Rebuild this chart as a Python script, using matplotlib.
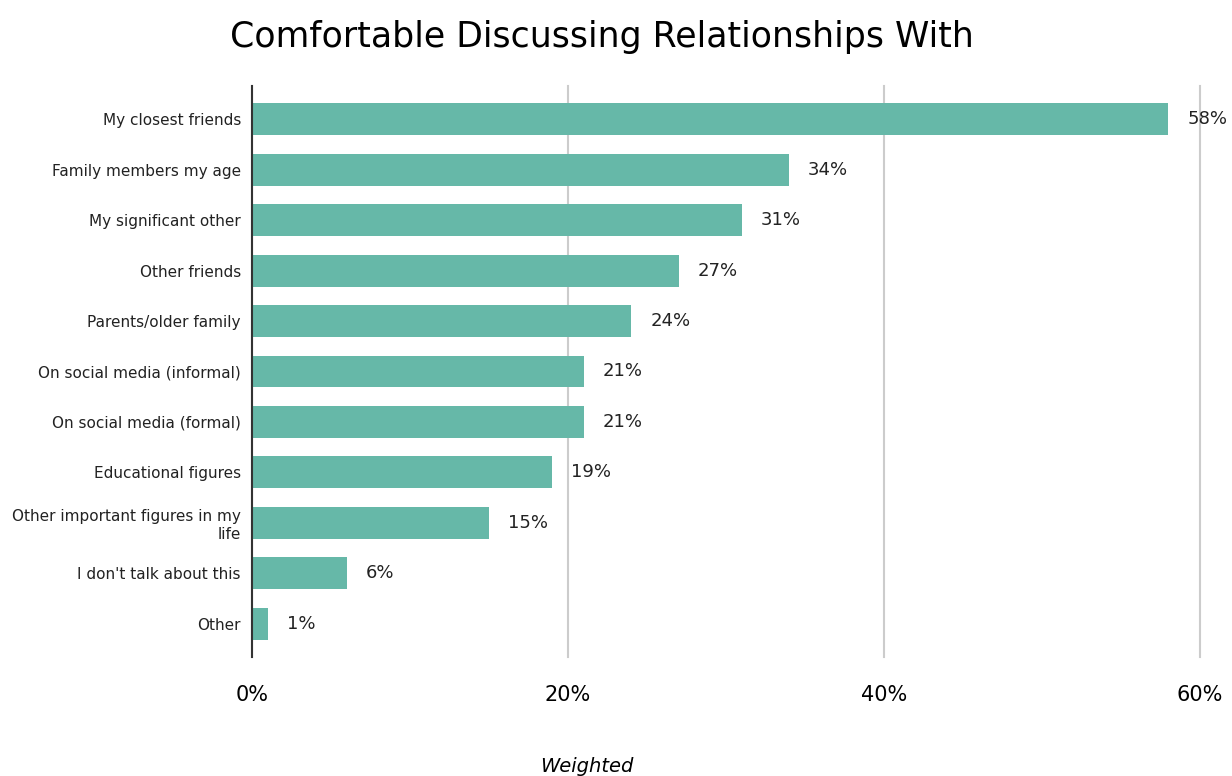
import numpy as np
import matplotlib.pyplot as plt

categories = [
    "My closest friends",
    "Family members my age",
    "My significant other",
    "Other friends",
    "Parents/older family",
    "On social media (informal)",
    "On social media (formal)",
    "Educational figures",
    "Other important figures in my\nlife",
    "I don't talk about this",
    "Other",
]
values = [58, 34, 31, 27, 24, 21, 21, 19, 15, 6, 1]
xticks = [0, 20, 40, 60]

barcolor = "#66b8a8"

fig = plt.figure(figsize=(12.32, 7.76), dpi=100)
ax = fig.add_axes([252 / 1232, 1 - 657 / 776, (1200 - 252) / 1232, (657 - 86) / 776])

y = np.arange(len(categories))
ax.barh(y, values, height=0.63, color=barcolor, zorder=2)

for yi, v in zip(y, values):
    ax.text(v + 1.2, yi, "%d%%" % v, va="center", ha="left", fontsize=13, color="#222222")

ax.set_yticks(y)
ax.set_yticklabels(categories, fontsize=11, color="#222222")
ax.set_ylim(len(categories) - 0.34, -0.66)
ax.set_xlim(0, 60)
ax.set_xticks(xticks)
ax.set_xticklabels(["%d%%" % t for t in xticks], fontsize=15)
ax.tick_params(axis="y", length=0, pad=8)
ax.tick_params(axis="x", length=0, pad=20)
ax.xaxis.grid(True, color="#cccccc", linewidth=1.5, zorder=0)
for gl in ax.get_xgridlines():
    gl.set_clip_on(False)

for s in ["top", "right", "bottom"]:
    ax.spines[s].set_visible(False)
ax.spines["left"].set_color("#333333")
ax.spines["left"].set_linewidth(1.5)
ax.spines["left"].set_zorder(3)

fig.text(602 / 1232, 1 - 37 / 776, "Comfortable Discussing Relationships With",
         ha="center", va="center", fontsize=25)
fig.text(587 / 1232, 1 - 766 / 776, "Weighted", ha="center", va="center",
         fontsize=14, style="italic")

fig.savefig("out.png", dpi=100)
